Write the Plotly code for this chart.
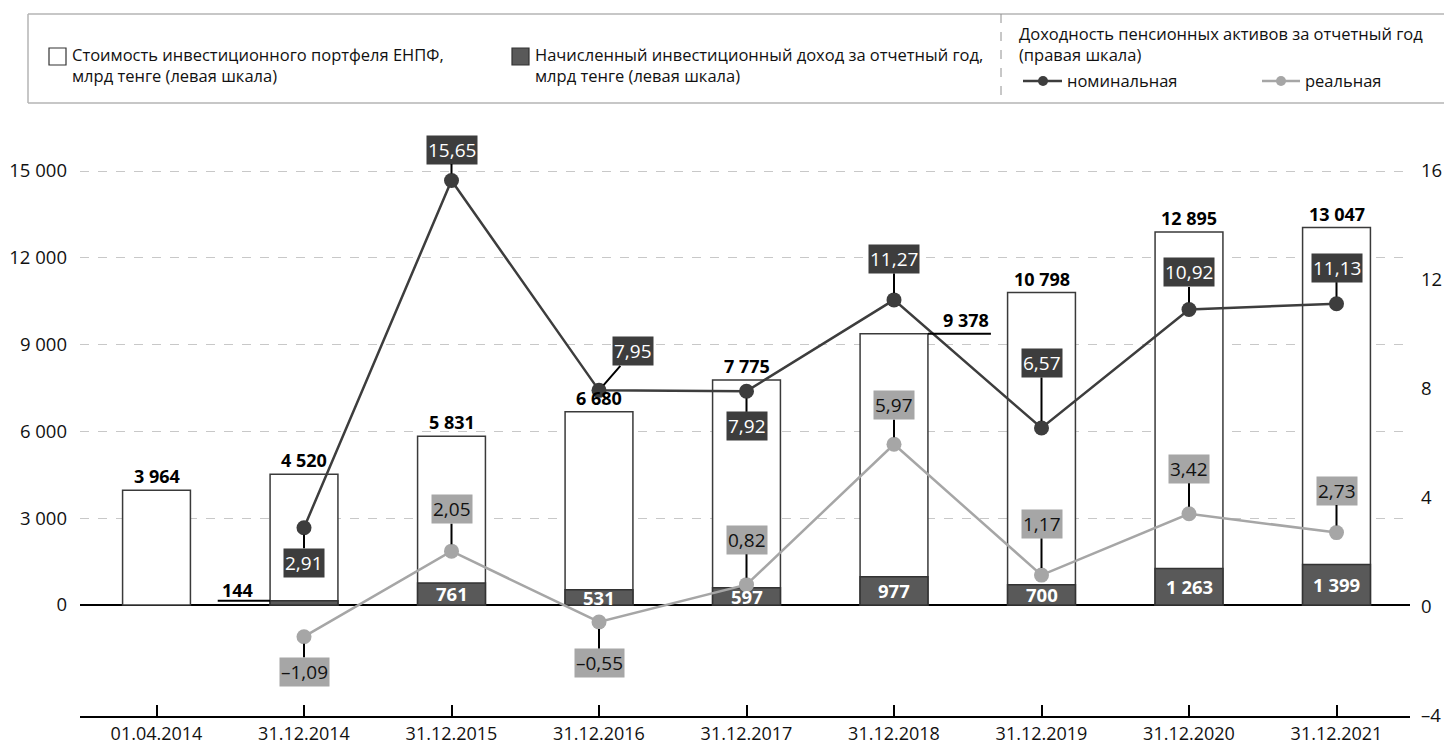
import plotly.graph_objects as go

# ---------------- data ----------------
categories = ["01.04.2014", "31.12.2014", "31.12.2015", "31.12.2016", "31.12.2017",
              "31.12.2018", "31.12.2019", "31.12.2020", "31.12.2021"]
portfolio = [3964, 4520, 5831, 6680, 7775, 9378, 10798, 12895, 13047]
income_cats = categories[1:]
income = [144, 761, 531, 597, 977, 700, 1263, 1399]
nominal = [2.91, 15.65, 7.95, 7.92, 11.27, 6.57, 10.92, 11.13]
real = [-1.09, 2.05, -0.55, 0.82, 5.97, 1.17, 3.42, 2.73]
left_ticks = [0, 3000, 6000, 9000, 12000, 15000]
right_ticks = [-4, 0, 4, 8, 12, 16]

# ---------------- label placement (pixel offsets) ----------------
nom_offsets = [(0, 35), (0, -31), (34, -39), (0, 35), (0, -41), (0, -65), (0, -37), (0, -36)]
real_offsets = [(0, 35), (0, -42), (0, 41), (0, -45), (0, -39), (0, -51), (0, -45), (0, -42)]

W, H = 1444, 744
L, R, T, B = 80, 1410, 140, 716
FONT = "Open Sans"
DARK = "#3d3d3d"
MID = "#595959"
LIGHT = "#a6a6a6"


def xp(px):
    return (px - L) / (R - L)


def yp(py):
    return (B - py) / (B - T)


def fmt_int(v):
    return f"{v:,}".replace(",", " ")


def fmt_pct(v):
    s = f"{abs(v):.2f}".replace(".", ",")
    return ("–" + s) if v < 0 else s


ppuL = 434 / 15000.0
yl_range = [(605 - B) / ppuL, (605 - T) / ppuL]
ppuR = 27.25
yr_range = [(607 - B) / ppuR, (607 - T) / ppuR]
ppx = 147.5
x_range = [(L - 156.5) / ppx, (R - 156.5) / ppx]

fig = go.Figure()
fig.add_trace(go.Bar(x=categories, y=portfolio, width=0.46,
                     marker=dict(color="white", line=dict(color="#3a3a3a", width=1.5)),
                     hoverinfo="skip"))
fig.add_trace(go.Bar(x=income_cats, y=income, width=0.46,
                     marker=dict(color=MID, line=dict(color="#333333", width=1.5)),
                     hoverinfo="skip"))
fig.add_trace(go.Scatter(x=income_cats, y=nominal, yaxis="y2", mode="lines+markers",
                         line=dict(color=DARK, width=2.5),
                         marker=dict(color=DARK, size=15)))
fig.add_trace(go.Scatter(x=income_cats, y=real, yaxis="y2", mode="lines+markers",
                         line=dict(color=LIGHT, width=2.5),
                         marker=dict(color=LIGHT, size=15)))

ann = []
shapes = []
bold_font = dict(size=18, color="black", family=FONT)

# portfolio totals
for i, v in enumerate(portfolio):
    if i == 5:
        ann.append(dict(x=i + 0.49, y=v, xref="x", yref="y", text=f"<b>{fmt_int(v)}</b>",
                        showarrow=False, yanchor="bottom", xanchor="center", font=bold_font))
        shapes.append(dict(type="line", xref="x", yref="y", x0=i + 0.23, x1=i + 0.657,
                           y0=v, y1=v, line=dict(color="black", width=2)))
    else:
        ann.append(dict(x=i, y=v, xref="x", yref="y", text=f"<b>{fmt_int(v)}</b>",
                        showarrow=False, yanchor="bottom", xanchor="center", font=bold_font))

# income labels
for j, v in enumerate(income):
    i = j + 1
    if j == 0:
        ann.append(dict(x=i - 0.45, y=v, xref="x", yref="y", text=f"<b>{fmt_int(v)}</b>",
                        showarrow=False, yanchor="bottom", xanchor="center", yshift=-3,
                        font=bold_font))
        shapes.append(dict(type="line", xref="x", yref="y", x0=i - 0.585, x1=i - 0.23,
                           y0=v, y1=v, line=dict(color="black", width=2)))
    else:
        ann.append(dict(x=i, y=v / 2.0, xref="x", yref="y", text=f"<b>{fmt_int(v)}</b>",
                        showarrow=False, yanchor="middle", xanchor="center",
                        font=dict(size=18.5, color="white", family=FONT)))

# percentage labels
for series, offs, bg, fc in [(nominal, nom_offsets, DARK, "white"),
                             (real, real_offsets, LIGHT, "#111111")]:
    for j, v in enumerate(series):
        ax, ay = offs[j]
        ann.append(dict(x=j + 1, y=v, xref="x", yref="y2", text=fmt_pct(v),
                        showarrow=True, arrowhead=0, arrowwidth=2, arrowcolor="black",
                        ax=ax, ay=ay, standoff=7, bgcolor=bg, borderpad=1,
                        font=dict(size=19, color=fc, family=FONT)))

# ---------------- legend box ----------------
legc = "#b4b4b4"
shapes += [
    dict(type="line", xref="paper", yref="paper", x0=xp(28), x1=xp(1444), y0=yp(14), y1=yp(14),
         line=dict(color=legc, width=1.5)),
    dict(type="line", xref="paper", yref="paper", x0=xp(28), x1=xp(1444), y0=yp(103), y1=yp(103),
         line=dict(color=legc, width=1.5)),
    dict(type="line", xref="paper", yref="paper", x0=xp(28), x1=xp(28), y0=yp(14), y1=yp(103),
         line=dict(color=legc, width=1.5)),
    dict(type="line", xref="paper", yref="paper", x0=xp(1001), x1=xp(1001), y0=yp(14), y1=yp(103),
         line=dict(color="#909090", width=1, dash="dash")),
    dict(type="rect", xref="paper", yref="paper", x0=xp(49), x1=xp(66), y0=yp(65), y1=yp(48),
         fillcolor="white", line=dict(color="#333333", width=1.2)),
    dict(type="rect", xref="paper", yref="paper", x0=xp(512), x1=xp(529), y0=yp(65), y1=yp(48),
         fillcolor=MID, line=dict(color="#333333", width=1.2)),
    dict(type="line", xref="paper", yref="paper", x0=xp(1023), x1=xp(1062), y0=yp(81), y1=yp(81),
         line=dict(color=DARK, width=2.5)),
    dict(type="circle", xref="paper", yref="paper", x0=xp(1038), x1=xp(1048), y0=yp(86), y1=yp(76),
         fillcolor=DARK, line=dict(color=DARK, width=0)),
    dict(type="line", xref="paper", yref="paper", x0=xp(1262), x1=xp(1300), y0=yp(81), y1=yp(81),
         line=dict(color=LIGHT, width=2.5)),
    dict(type="circle", xref="paper", yref="paper", x0=xp(1276), x1=xp(1286), y0=yp(86), y1=yp(76),
         fillcolor=LIGHT, line=dict(color=LIGHT, width=0)),
]

leg_font = dict(size=16.5, color="#111111", family=FONT)
ann += [
    dict(xref="paper", yref="paper", x=xp(70), y=yp(65), xanchor="left", yanchor="middle",
         align="left", showarrow=False, font=leg_font,
         text="Стоимость инвестиционного портфеля ЕНПФ,<br>млрд тенге (левая шкала)"),
    dict(xref="paper", yref="paper", x=xp(533), y=yp(65), xanchor="left", yanchor="middle",
         align="left", showarrow=False, font=leg_font,
         text="Начисленный инвестиционный доход за отчетный год,<br>млрд тенге (левая шкала)"),
    dict(xref="paper", yref="paper", x=xp(1017), y=yp(44), xanchor="left", yanchor="middle",
         align="left", showarrow=False, font=leg_font,
         text="Доходность пенсионных активов за отчетный год<br>(правая шкала)"),
    dict(xref="paper", yref="paper", x=xp(1065), y=yp(81), xanchor="left", yanchor="middle",
         align="left", showarrow=False, font=leg_font, text="номинальная"),
    dict(xref="paper", yref="paper", x=xp(1303), y=yp(81), xanchor="left", yanchor="middle",
         align="left", showarrow=False, font=leg_font, text="реальная"),
]

fig.update_layout(
    width=W, height=H,
    margin=dict(l=L, r=W - R, t=T, b=H - B, autoexpand=False),
    paper_bgcolor="white", plot_bgcolor="white",
    barmode="overlay", showlegend=False,
    font=dict(family=FONT, size=17, color="#111111"),
    xaxis=dict(type="category", categoryorder="array", categoryarray=categories,
               range=x_range, showline=True, linecolor="black", linewidth=2,
               ticks="inside", ticklen=11, tickwidth=2, tickcolor="black",
               showgrid=False, zeroline=False, tickfont=dict(size=18, family=FONT, color="#111111"),
               ticklabelstandoff=0),
    yaxis=dict(range=yl_range, tickvals=left_ticks,
               ticktext=[fmt_int(v) for v in left_ticks],
               showgrid=True, gridcolor="#c8c8c8", griddash="dash", gridwidth=1,
               zeroline=True, zerolinecolor="black", zerolinewidth=2,
               showline=False, ticks="", tickfont=dict(size=18.5, family=FONT, color="#111111"),
               ticklabelstandoff=12),
    yaxis2=dict(range=yr_range, overlaying="y", side="right", tickvals=right_ticks,
                ticktext=[fmt_pct(v).split(",")[0] if v < 0 else str(v) for v in right_ticks],
                showgrid=False, zeroline=False, showline=False, ticks="",
                tickfont=dict(size=18.5, family=FONT, color="#111111"), ticklabelstandoff=10),
    annotations=ann,
    shapes=shapes,
)

fig.write_html("out.html")
